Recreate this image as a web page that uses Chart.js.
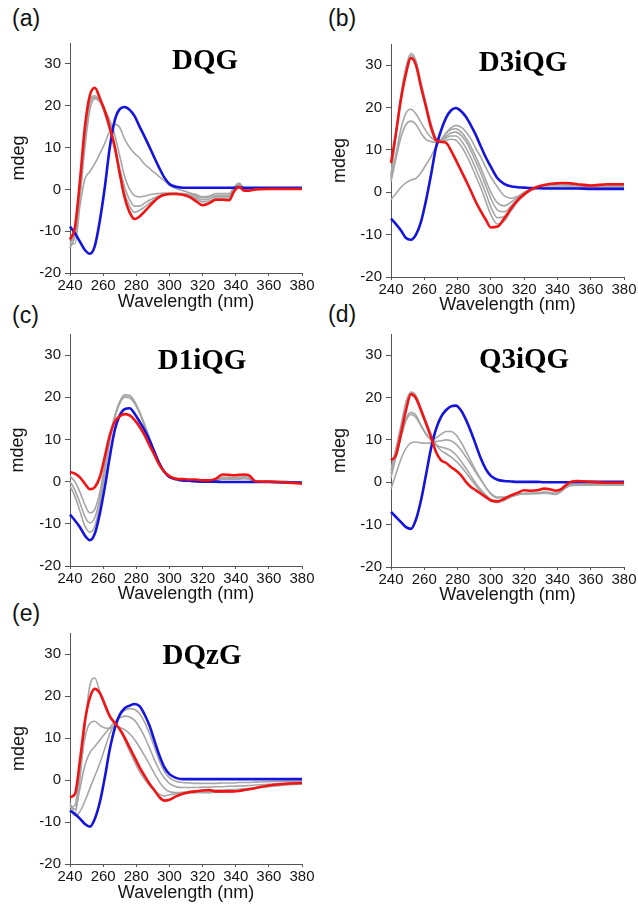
<!DOCTYPE html>
<html><head><meta charset="utf-8">
<script src="https://cdn.jsdelivr.net/npm/chart.js@4/dist/chart.umd.min.js"></script>
<style>
html,body{margin:0;padding:0;background:#fff;}
body{width:638px;height:905px;position:relative;overflow:hidden;}
canvas{position:absolute;}
.lab{position:absolute;font-family:"Liberation Sans",Arial,sans-serif;font-size:23px;color:#111;line-height:1;white-space:nowrap;}
</style></head><body>
<div class="lab" style="left:12px;top:7px">(a)</div>
<div class="lab" style="left:328px;top:7px">(b)</div>
<div class="lab" style="left:12px;top:304px">(c)</div>
<div class="lab" style="left:328px;top:303px">(d)</div>
<div class="lab" style="left:12px;top:602px">(e)</div>
<script>
// Wavelength grid (nm)
const wl = [240,243,246,249,252,255,258,261,264,267,270,273,276,279,282,285,288,291,294,297,300,
            304,308,312,316,320,324,328,332,336,339,342,345,348,352,360,370,380];
const xTicks = [240,260,280,300,320,340,360,380];
const yTicks = [-20,-10,0,10,20,30];
const panelNames = ['DQG','D3iQG','D1iQG','Q3iQG','DQzG'];

// (a) DQG
const blueA = [-8.9,-10.5,-12.5,-14.5,-15.4,-13.5,-7.5,0.5,10,16.5,19.2,19.7,19,17.5,15,12.6,10.1,7.5,5,2.8,1.3,
  0.6,0.4,0.4,0.4,0.4,0.4,0.4,0.4,0.4,0.4,0.5,0.4,0.4,0.4,0.4,0.4,0.4];
const redA = [-12,-9,2,15,22.5,24.3,21.8,18.8,14.8,10.2,3.8,-2,-5.5,-7.1,-6.5,-5.3,-4,-2.8,-1.8,-1.3,-1.1,
  -1.1,-1.3,-1.8,-2.8,-3.8,-3.3,-2.5,-2.5,-2.6,-0.5,0.6,-0.3,-0.3,0,0.1,0.1,0.1];
const grayA1 = [-13,-10,0,13,21,22.4,21,18,14,9.5,4,-1,-4,-5.5,-5,-4.2,-3.3,-2.5,-1.8,-1.4,-1.2,
  -1.1,-1.2,-1.5,-2.2,-3,-2.8,-2.2,-2.2,-2.2,0,1,0,-0.1,0,0.1,0.1,0.1];
const grayA2 = [-14,-11,-1,12,20.5,22,21,18.5,15,10.5,5,0.5,-2.5,-4,-4,-3.3,-2.6,-2,-1.5,-1.2,-1.1,
  -1,-1.1,-1.3,-1.8,-2.5,-2.3,-1.8,-1.8,-1.8,0.2,1.2,0.1,0,0,0.1,0.1,0.1];
const grayA3 = [-14,-11,-2,10,19,21.7,21,19,16.5,13,8,3,0,-1.5,-1.8,-1.6,-1.3,-1.1,-1,-0.9,-0.9,
  -0.9,-1,-1.2,-1.5,-2,-1.8,-1.4,-1.4,-1.4,0.3,1.3,0.2,0,0,0.1,0.1,0.1];
const grayA4 = [-13,-13,-4,2.5,4.2,6.2,8.5,11,14,15.6,14.8,12,10,8.6,7.5,6,5,4,3,2,1,
  0.2,-0.3,-0.8,-1.2,-1.8,-1.6,-1,-1,-1,0.5,1.5,0.3,0,0.1,0.1,0.1,0.1];

// (b) D3iQG
const blueB = [-6.2,-7.5,-9,-10.8,-11.2,-10,-7,-2,4,10.5,14.5,17.5,19.3,19.9,19.2,17.8,15.8,13.5,10.8,8.2,6,
  3.3,2,1.4,1.2,1.1,1,1,0.9,0.9,0.9,0.9,0.9,0.9,0.9,0.8,0.8,0.8];
const redB = [6.9,14,22,28,31.7,30,24.9,20.2,15.4,12.3,11.9,11.7,9.9,7.6,5.2,2.8,0.3,-2.3,-4.5,-6.5,-8.3,
  -8.1,-6.2,-3.9,-1.9,-0.5,0.6,1.3,1.7,2,2.1,2.2,2.2,2.1,1.9,1.6,1.9,1.9];
const grayB1 = [3.5,14,23,29.5,32.8,31,26,21,16.3,12.8,12,12.3,12.5,12.3,11,9,6.5,3.8,1,-2.2,-5.3,
  -7.5,-6.8,-4.5,-2.3,-0.7,0.4,1.1,1.6,1.8,1.8,1.8,1.8,1.7,1.7,1.6,1.6,1.6];
const grayB2 = [4,14,22.5,29,32.3,30.5,25.5,20.5,16,12.8,12.2,12.8,13.3,13.3,12.3,10.5,8.2,5.5,2.7,-0.3,-3.5,
  -6,-5.8,-4,-2,-0.5,0.5,1.1,1.5,1.7,1.7,1.7,1.6,1.6,1.6,1.5,1.5,1.5];
const grayB3 = [3,9,15,18.7,19.6,18.5,16.5,14.5,13,12.2,12.3,13.2,14,14.2,13.5,12,9.8,7.2,4.5,1.5,-1.5,
  -4.2,-4.6,-3.3,-1.6,-0.2,0.6,1,1.2,1.2,1.2,1.2,1.2,1.2,1.2,1.2,1.2,1.2];
const grayB4 = [2.5,8,13,16,16.8,16,14,12.5,12,11.8,12.3,13.8,14.8,15,14.3,12.8,10.8,8.3,5.7,2.8,0,
  -2.5,-3.2,-2.4,-1.1,0,0.8,1.1,1.2,1.2,1.2,1.2,1.2,1.2,1.2,1.2,1.1,1.1];
const grayB5 = [-1.7,-0.3,1.2,2.2,2.9,3.3,4.6,6.5,8.4,10.8,12.3,14,15.2,15.8,15.4,14.3,12.6,10.3,8.3,5.8,3.6,
  1.2,-0.8,-1.4,-1,-0.2,0.5,0.8,1,1,1,1,1,1,1,1,1,1];

// (c) D1iQG
const blueC = [-7.8,-9.2,-10.8,-12.8,-13.9,-12.3,-7.6,-1.3,5.9,12.2,15.7,17.2,17.4,16.1,14.2,12.2,9.8,7,4.3,2.3,1.1,
  0.6,0.3,0.2,0.1,0,0,0,-0.1,-0.1,-0.1,-0.1,-0.1,-0.1,-0.1,-0.1,-0.2,-0.2];
const redC = [2.3,1.9,1,-0.5,-1.8,-1.3,1.1,5.9,11,14.2,15.5,16,15.7,14.6,13,11,8.6,6.3,3.9,2.3,1.3,
  0.7,0.6,0.5,0.5,0.3,0.3,0.7,1.7,1.6,1.5,1.6,1.7,1.5,0.1,0,-0.2,-0.5];
const grayC1 = [1.3,0,-2.5,-5.5,-7.4,-6.5,-2.5,4,10.5,15.5,18.8,20.3,20.3,18.8,16.5,13.5,10.3,7,4.2,2.2,1,
  0.4,0.2,0.1,0,0,0.1,0.4,1.1,1,1,1,1.2,1,0,0,0,-0.3];
const grayC2 = [0,-2,-5,-8.3,-9.8,-8.5,-4,3,10,15.5,19,20.6,20.5,19,16.5,13.5,10.3,7,4.2,2.2,1,
  0.4,0.2,0.1,0,0,0,0.3,0.8,0.8,0.8,0.8,0.9,0.8,0,0,0,-0.3];
const grayC3 = [-1,-3.5,-7,-10.5,-12,-10.5,-5.5,2,9.5,15,18.5,20,19.8,18.5,16.2,13.3,10.2,7,4.2,2.2,1,
  0.4,0.2,0.1,0,0,0,0.2,0.6,0.6,0.6,0.6,0.7,0.6,0,0,0,-0.3];

// (d) Q3iQG
const blueD = [-7,-8.2,-9.4,-10.6,-11,-8.8,-4.3,1.7,7.9,12.5,15.4,17,17.9,18.1,17,14.8,12,8.8,5.6,3.1,1.5,
  0.6,0.3,0.2,0.1,0.1,0.1,0.1,0,0,0,0,0,0,0.1,0.1,0.1,0.1];
const redD = [5.2,6.4,11.5,17,20.8,19.8,17,13.9,10.7,7.2,5.2,4.6,3.6,2.8,1.7,0.1,-1.1,-1.9,-2.7,-3.5,-4.3,
  -4.5,-3.9,-3.1,-2.5,-1.9,-2,-1.9,-1.5,-1.7,-2,-1.7,-0.7,0.1,0.3,0.1,-0.1,-0.1];
const grayD1 = [3,8,13.5,19,21.3,20.5,17.5,14.5,11.5,9,7.5,6.8,6,5,3.8,2.3,0.7,-0.8,-2.2,-3.3,-4.2,
  -4.8,-4.3,-3.5,-3,-2.7,-2.6,-2.5,-2.3,-2.4,-2.6,-2,-1,-0.5,-0.4,-0.4,-0.4,-0.4];
const grayD2 = [2,6.5,11,15,16.5,15.8,13.5,11.5,10,8.8,8.3,8,7.5,6.5,5,3.3,1.5,-0.3,-1.8,-3,-4,
  -4.5,-4,-3.3,-2.9,-2.7,-2.7,-2.6,-2.4,-2.5,-2.7,-2.1,-1.1,-0.6,-0.5,-0.5,-0.5,-0.5];
const grayD3 = [1,6,10.5,14.5,16,15.3,13.3,11.3,10.3,10.5,11.3,12,12,11.2,9.5,7.3,5,2.7,0.7,-1.2,-2.8,
  -3.7,-3.6,-3.2,-2.8,-2.6,-2.6,-2.6,-2.5,-2.6,-2.8,-2.2,-1.2,-0.7,-0.6,-0.6,-0.6,-0.6];
const grayD4 = [-1.5,2,5.5,8,9.3,9.5,9.3,9.2,9.3,9.6,9.8,10,9.8,9,7.7,6,4.2,2.3,0.5,-1.2,-2.6,
  -3.5,-3.5,-3.2,-2.9,-2.7,-2.7,-2.7,-2.6,-2.7,-2.9,-2.3,-1.3,-0.8,-0.7,-0.7,-0.7,-0.7];

// (e) DQzG
const blueE = [-7.3,-8.1,-9.2,-10.5,-11.1,-9.2,-5.3,0.6,7.3,12.3,15.5,17.1,17.7,18.1,17.6,15.6,12.9,9.3,5.8,3,1.4,
  0.5,0.2,0.2,0.2,0.2,0.2,0.2,0.2,0.2,0.2,0.2,0.2,0.2,0.2,0.2,0.2,0.2];
const redE = [-4.1,-3.3,4.6,14,19.6,21.7,20.7,18,15.2,13.6,12.1,10.1,7.7,5.4,3,1,-0.9,-2.5,-4.1,-4.9,-4.7,
  -3.9,-3.3,-2.9,-2.7,-2.5,-2.4,-2.7,-2.7,-2.7,-2.7,-2.6,-2.4,-2.2,-1.9,-1.3,-0.9,-0.7];
const grayE1 = [-5.5,-8,0,13,22.5,24.3,21,17.5,15,13.5,12,9.5,6.8,4.3,2,0.2,-1.3,-2.5,-3.4,-3.8,-3.5,
  -3.3,-3.2,-3.1,-3,-3,-3,-2.9,-2.9,-2.8,-2.7,-2.6,-2.4,-2.2,-2,-1.6,-1.2,-1];
const grayE2 = [-6.5,-6,2,10,13.5,14,13,12.4,12.3,12.8,12.5,12,11,9.6,7.8,5.8,3.7,1.5,-0.5,-2,-2.8,
  -3,-2.9,-2.7,-2.6,-2.5,-2.5,-2.4,-2.4,-2.3,-2.3,-2.2,-2.1,-2,-1.9,-1.5,-1.1,-0.9];
const grayE3 = [-6,-7,-2,3.5,6.5,8,9.5,11,12.5,13.8,14.8,15.2,15,14.2,12.5,10.3,7.6,4.8,2.3,0.5,-0.8,
  -1.6,-1.8,-1.8,-1.8,-1.7,-1.7,-1.6,-1.6,-1.5,-1.5,-1.4,-1.4,-1.3,-1.2,-1,-0.8,-0.6];
const grayE4 = [-7,-8.5,-7.5,-5,-2,1,4,7.5,11,13.5,15.5,16.6,17,16.8,15.8,13.8,11,7.8,4.5,2,0.5,
  -0.3,-0.6,-0.7,-0.8,-0.8,-0.8,-0.8,-0.7,-0.7,-0.7,-0.6,-0.6,-0.6,-0.5,-0.4,-0.3,-0.3];

const BLUE = '#1414dc', RED = '#f01414', GRAY = '#a6a6a6', AX = '#555555', TXT = '#151515';
const SANS = '"Liberation Sans", Arial, Helvetica, sans-serif';
const SERIF = '"Liberation Serif", "Times New Roman", serif';

// layout (page px)
const layouts = [
  {c:{l:0,t:30,w:318,h:290},   p:{l:70,r:302,t:42,b:273},  tx:205, tb:69,  yt:19,   xt:302},
  {c:{l:318,t:30,w:320,h:290}, p:{l:391,r:624,t:44,b:277}, tx:523, tb:71,  yt:22.5, xt:305},
  {c:{l:0,t:320,w:318,h:290},  p:{l:70,r:302,t:334,b:566}, tx:202, tb:369, yt:18.5, xt:594},
  {c:{l:318,t:320,w:320,h:290},p:{l:391,r:624,t:334,b:567},tx:524, tb:368, yt:22.5, xt:595},
  {c:{l:0,t:620,w:318,h:285},  p:{l:70,r:302,t:632,b:864}, tx:202, tb:664, yt:19.5, xt:893}
];
const series = [
  [redA, blueA, [grayA1,grayA2,grayA3,grayA4]],
  [redB, blueB, [grayB1,grayB2,grayB3,grayB4,grayB5]],
  [redC, blueC, [grayC1,grayC2,grayC3]],
  [redD, blueD, [grayD1,grayD2,grayD3,grayD4]],
  [redE, blueE, [grayE1,grayE2,grayE3,grayE4]]
];

function ds(vals, color, w, order){
  return {data: wl.map((x,i)=>({x:x, y:vals[i]})), borderColor:color, borderWidth:w,
    pointRadius:0, fill:false, cubicInterpolationMode:'monotone', order:order, clip:false};
}

panelNames.forEach((name, k)=>{
  const L = layouts[k];
  const [red, blue, grays] = series[k];
  const cv = document.createElement('canvas');
  cv.width = L.c.w; cv.height = L.c.h;
  cv.style.left = L.c.l+'px'; cv.style.top = L.c.t+'px';
  cv.style.width = L.c.w+'px'; cv.style.height = L.c.h+'px';
  document.body.appendChild(cv);
  const datasets = [ds(red, RED, 2.6, 0), ds(blue, BLUE, 2.6, 1)];
  grays.forEach((g,i)=>datasets.push(ds(g, GRAY, 1.6, 2+i)));
  const lhX = 18*1.2;
  const titlePlugin = {id:'ptitle', afterDatasetsDraw(chart){
    const ctx = chart.ctx; ctx.save();
    ctx.font = 'bold 29px ' + SERIF; ctx.fillStyle = '#000';
    ctx.textAlign = 'center'; ctx.textBaseline = 'alphabetic';
    ctx.fillText(name, L.tx - L.c.l, L.tb - L.c.t);
    ctx.restore();
  }};
  new Chart(cv, {
    type:'line',
    data:{datasets},
    options:{
      responsive:false, animation:false, devicePixelRatio:1,
      events:[],
      layout:{padding:{top:L.p.t-L.c.t, right:L.c.l+L.c.w-L.p.r, left:0, bottom:0}},
      plugins:{legend:{display:false}, tooltip:{enabled:false}, title:{display:false}},
      scales:{
        x:{type:'linear', min:240, max:380,
          afterBuildTicks:s=>{s.ticks = xTicks.map(v=>({value:v}));},
          ticks:{font:{family:SANS,size:15}, color:TXT, padding:1, maxRotation:0, autoSkip:false},
          grid:{display:true, drawOnChartArea:false, drawTicks:true, tickLength:3, color:AX, lineWidth:1},
          border:{display:true, color:AX, width:1},
          title:{display:true, text:'Wavelength (nm)', color:TXT, font:{family:SANS,size:18,lineHeight:1.2},
            padding:{top:0, bottom:(L.c.t+L.c.h) - L.xt - lhX/2}},
          afterFit:s=>{s.height = L.c.t+L.c.h-L.p.b;}
        },
        y:{type:'linear', min:-20, max:35,
          afterBuildTicks:s=>{s.ticks = yTicks.map(v=>({value:v}));},
          ticks:{font:{family:SANS,size:15}, color:TXT, padding:4},
          grid:{display:true, drawOnChartArea:false, drawTicks:true, tickLength:5, color:AX, lineWidth:1},
          border:{display:true, color:AX, width:1},
          title:{display:true, text:'mdeg', color:TXT, font:{family:SANS,size:18,lineHeight:1.2},
            padding:{top:L.yt - lhX/2, bottom:0}},
          afterFit:s=>{s.width = L.p.l-L.c.l;}
        }
      }
    },
    plugins:[titlePlugin]
  });
});
</script>
</body></html>
